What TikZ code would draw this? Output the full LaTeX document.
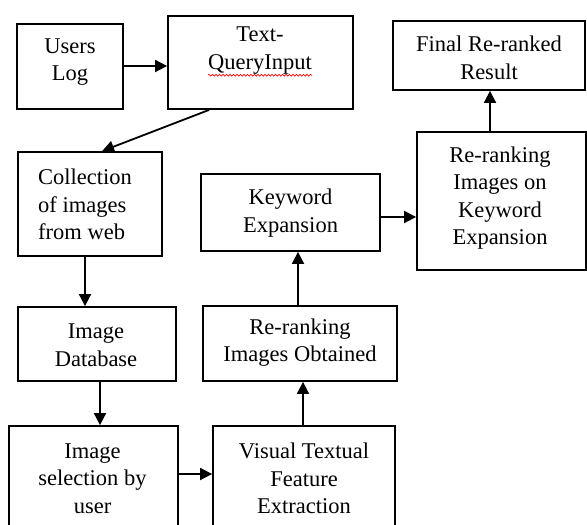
\documentclass[tikz,border=0pt]{standalone}
\usepackage{fontspec}
\setmainfont{Liberation Serif}
\usetikzlibrary{arrows.meta,decorations.pathmorphing}
\tikzset{
  box/.style={draw=black, line width=1.8pt, rectangle, inner sep=0pt, fill=white},
  txt/.style={inner sep=0pt, align=center, font=\fontsize{22.5}{27.5}\selectfont},
  arr/.style={line width=1.8pt, -{Triangle[length=12pt,width=12pt]}},
}
\newcommand{\mybox}[5]{% name, x1, y1, x2, y2
  \node[box, minimum width={#4-#2}, minimum height={#5-#3}] (#1) at ({(#2+#4)/2},{(#3+#5)/2}) {};}
\begin{document}
\begin{tikzpicture}[x=1pt,y=-1pt]
\path[use as bounding box] (0,0) rectangle (587,525);
\clip (0,0) rectangle (587,525);
\fill[white] (0,0) rectangle (587,525);

\mybox{ul}{17}{24}{123}{109}
\mybox{tq}{168}{16}{353}{109}
\mybox{co}{18}{152}{162}{256}
\mybox{ke}{201}{174}{380}{251}
\mybox{db}{18}{307}{176}{381}
\mybox{ro}{203}{306}{397}{381}
\mybox{se}{9}{426}{178}{560}
\mybox{vt}{213}{426}{395}{560}
\mybox{fi}{393}{21}{585}{90}
\mybox{rk}{417}{132}{586}{270}

\node[txt] (ult) at (70,62) {Users\\Log};
\node[txt] (tqt) at (260,50.5) {Text-\\QueryInput};
\node[txt, align=left, anchor=west] (cot) at (38,204.5) {Collection\\of images\\from web};
\node[txt] (ket) at (290.5,213) {Keyword\\Expansion};
\node[txt] (dbt) at (96,345) {Image\\Database};
\node[txt] (rot) at (300,342.5) {Re-ranking\\Images Obtained};
\node[txt] (set) at (92.5,478.5) {Image\\selection by\\user};
\node[txt] (vtt) at (304,478.5) {Visual Textual\\Feature\\Extraction};
\node[txt] (fit) at (489,58) {Final Re-ranked\\Result};
\node[txt] (rkt) at (500,198) {Re-ranking\\Images on\\Keyword\\Expansion};

\draw[red, line width=0.6pt, decorate, decoration={snake, amplitude=0.9pt, segment length=3.5pt}]
  ([yshift=-1pt]tqt.south west) -- ([yshift=-1pt]tqt.south east);

\draw[arr] (ul.east |- 0,66) -- (tq.west |- 0,66);
\draw[arr] ([xshift=42pt]tq.south west) -- ([xshift=85pt]co.north west);
\draw[arr] (co.south west -| 85,0) -- (db.north west -| 85,0);
\draw[arr] (db.south west -| 100,0) -- (se.north west -| 100,0);
\draw[arr] (se.east |- 0,474) -- (vt.west |- 0,474);
\draw[arr] (vt.north west -| 303,0) -- (ro.south west -| 303,0);
\draw[arr] (ro.north west -| 298,0) -- (ke.south west -| 298,0);
\draw[arr] (ke.east |- 0,217) -- (rk.west |- 0,217);
\draw[arr] (rk.north west -| 490,0) -- (fi.south west -| 490,0);
\end{tikzpicture}
\end{document}
